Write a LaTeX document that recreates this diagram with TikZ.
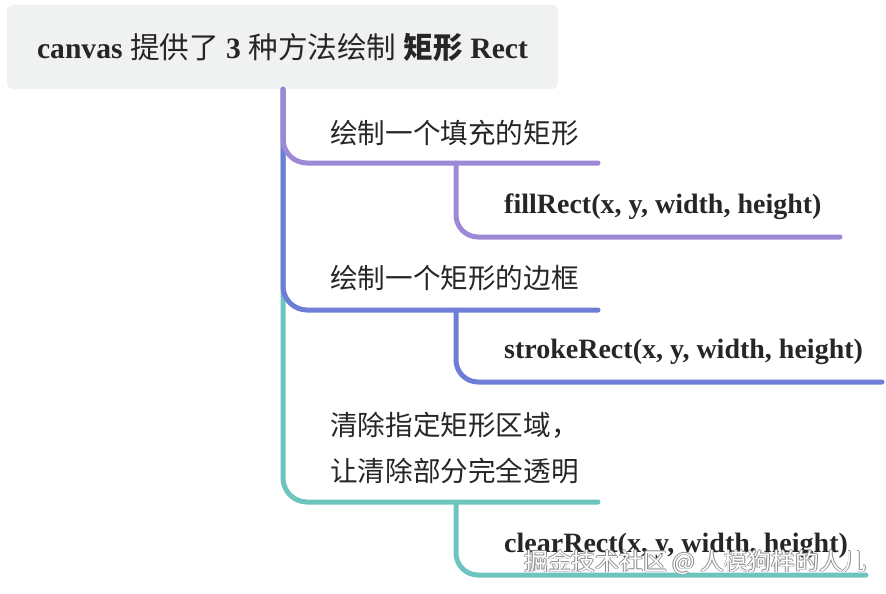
\documentclass[tikz,border=0pt]{standalone}
\usepackage{fontspec}
\setmainfont{Liberation Serif}
\newfontfamily\cjk{Noto Sans CJK SC}
\definecolor{rootfill}{HTML}{F0F1F1}
\definecolor{txt}{HTML}{262626}
\definecolor{cpurple}{HTML}{9D89D6}
\definecolor{cblue}{HTML}{6E7ED6}
\definecolor{cteal}{HTML}{6EC4BF}
\definecolor{wmgray}{HTML}{8A8A8A}
\newcommand\wmtext[1]{\leavevmode\rlap{\kern-0.9pt\color{wmgray}#1}\rlap{\kern0.9pt\color{wmgray}#1}\rlap{\raisebox{0.9pt}{\color{wmgray}#1}}\rlap{\raisebox{-0.9pt}{\color{wmgray}#1}}{\color{white}#1}}
\begin{document}
\begin{tikzpicture}[x=1pt,y=-1pt,
  rootbox/.style={fill=rootfill,rounded corners=6pt,minimum width=551pt,minimum height=84pt,inner sep=0pt,text=txt},
  cnlabel/.style={anchor=west,inner sep=0pt,text=txt,font=\cjk\fontsize{27.6}{46}\selectfont,align=left},
  fnlabel/.style={anchor=west,inner sep=0pt,text=txt,font=\bfseries\fontsize{28}{30}\selectfont},
  branch/.style={line width=5pt,line cap=round,rounded corners=24pt},
  wmlabel/.style={anchor=west,inner sep=0pt,font=\cjk\fontsize{23.8}{26}\selectfont}]
\useasboundingbox (0,0) rectangle (886,594);
\node[rootbox] (root) at (282.5,47) {\fontsize{29.6}{32}\selectfont\textbf{canvas} {\cjk 提供了} \textbf{3} {\cjk 种方法绘制} {\cjk\bfseries 矩形} \textbf{Rect}};
\coordinate (t0) at (283,89);
% branch ends
\coordinate (b1) at (598,163);
\coordinate (b2) at (598,310);
\coordinate (b3) at (598,502);
\coordinate (s1) at (840,237);
\coordinate (s2) at (882,382);
\coordinate (s3) at (866,575);
\coordinate (k1) at (456,163);
\coordinate (k2) at (456,310);
\coordinate (k3) at (456,502);
% main branches (drawn bottom-up so upper colours overlay the trunk)
\draw[branch,cteal] (root.south -| t0) -- (t0 |- b3) -- (b3);
\draw[branch,cblue] (root.south -| t0) -- (t0 |- b2) -- (b2);
\draw[branch,cpurple] (root.south -| t0) -- (t0 |- b1) -- (b1);
% sub branches
\draw[branch,cpurple,rounded corners=22pt] (k1) -- (k1 |- s1) -- (s1);
\draw[branch,cblue,rounded corners=22pt] (k2) -- (k2 |- s2) -- (s2);
\draw[branch,cteal,rounded corners=22pt] (k3) -- (k3 |- s3) -- (s3);
% labels
\node[cnlabel] (l1) at (330,133) {绘制一个填充的矩形};
\node[cnlabel] (l2) at (330,278) {绘制一个矩形的边框};
\node[cnlabel] (l3) at (330,448) {清除指定矩形区域，\\让清除部分完全透明};
\node[fnlabel] (f1) at (504,207) {fillRect(x, y, width, height)};
\node[fnlabel] (f2) at (504,352) {strokeRect(x, y, width, height)};
\node[fnlabel] (f3) at (504,546) {clearRect(x, y, width, height)};
\node[wmlabel] (wm) at (524,562) {\wmtext{掘金技术社区 @ 人模狗样的人儿}};
\end{tikzpicture}
\end{document}
